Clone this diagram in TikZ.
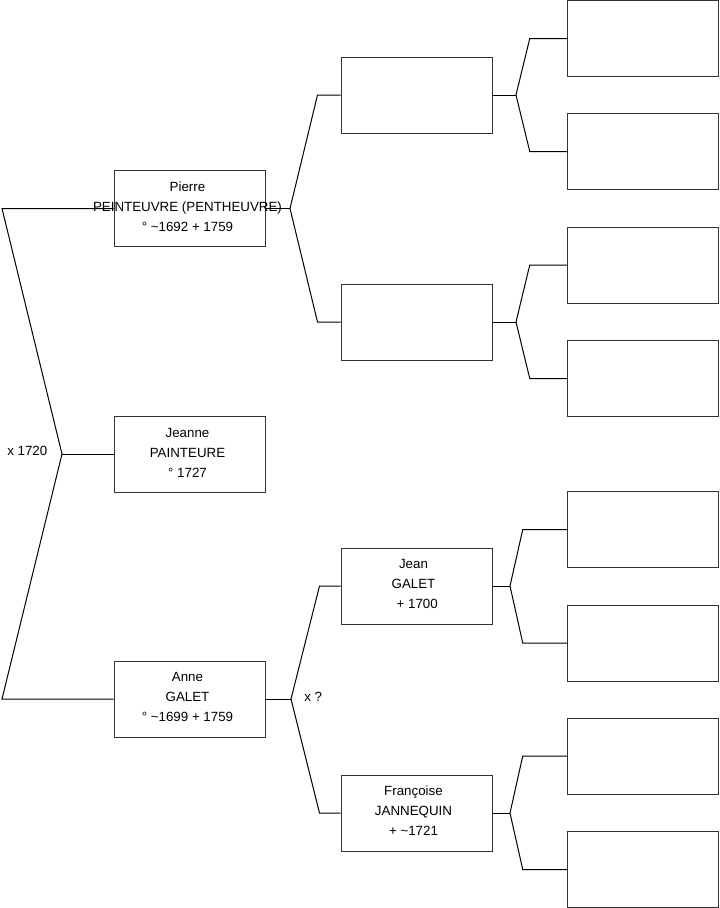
\documentclass[tikz,border=0pt]{standalone}
\usepackage{fontspec}
\setmainfont{Liberation Sans}
\begin{document}
\begin{tikzpicture}[x=0.75pt,y=-0.75pt,
  box/.style={draw=black!80, minimum width=113.25pt, minimum height=57pt, inner sep=0pt, line width=0.75pt},
  lbl/.style={align=center, font=\fontsize{10}{15}\selectfont, inner sep=0pt},
  ln/.style={line width=0.75pt, black}]
\useasboundingbox (0,0) rectangle (719,908);
% level 1
\node[box] (pierre) at (189.5,208.5) {};
\node[box] (jeanne) at (189.5,454) {};
\node[box] (anne) at (189.5,699) {};
% level 2
\node[box] (pp) at (416.5,95) {};
\node[box] (pm) at (416.5,322) {};
\node[box] (jean) at (416.5,586) {};
\node[box] (franc) at (416.5,813) {};
% level 3
\node[box] (r1) at (642.75,38.5) {};
\node[box] (r2) at (642.75,151.5) {};
\node[box] (r3) at (642.75,265) {};
\node[box] (r4) at (642.75,378.5) {};
\node[box] (r5) at (642.75,529.5) {};
\node[box] (r6) at (642.75,643) {};
\node[box] (r7) at (642.75,756) {};
\node[box] (r8) at (642.75,869.5) {};
% forks
\coordinate (lt) at (2,208.5);
\coordinate (lb) at (2,699);
\coordinate (f0) at (62,454);
\coordinate (fp) at (290,208.5);
\coordinate (fa) at (291,699);
\coordinate (fpp) at (516,95);
\coordinate (fpm) at (516,322);
\coordinate (fj) at (510,586);
\coordinate (ff) at (510,813);
% connectors
\draw[ln] (pierre.west) -- (lt) -- (f0) -- (lb) -- (anne.west);
\draw[ln] (f0) -- (jeanne.west);
\draw[ln] (pierre.east) -- (fp);
\draw[ln] (pp.west) -- ++(-17.25pt,0) -- (fp) -- ([xshift=-17.25pt]pm.west) -- (pm.west);
\draw[ln] (anne.east) -- (fa);
\draw[ln] (jean.west) -- ++(-15.75pt,0) -- (fa) -- ([xshift=-15.75pt]franc.west) -- (franc.west);
\draw[ln] (pp.east) -- (fpp);
\draw[ln] (r1.west) -- ++(-27.75pt,0) -- (fpp) -- ([xshift=-27.75pt]r2.west) -- (r2.west);
\draw[ln] (pm.east) -- (fpm);
\draw[ln] (r3.west) -- ++(-27.75pt,0) -- (fpm) -- ([xshift=-27.75pt]r4.west) -- (r4.west);
\draw[ln] (jean.east) -- (fj);
\draw[ln] (r5.west) -- ++(-33pt,0) -- (fj) -- ([xshift=-33pt]r6.west) -- (r6.west);
\draw[ln] (franc.east) -- (ff);
\draw[ln] (r7.west) -- ++(-33pt,0) -- (ff) -- ([xshift=-33pt]r8.west) -- (r8.west);
% labels
\node[lbl] (tpierre) at (187.5,206.5) {Pierre\\PEINTEUVRE (PENTHEUVRE)\\° \textasciitilde1692 + 1759};
\node[lbl] (tjeanne) at (187.5,453) {Jeanne\\PAINTEURE\\° 1727};
\node[lbl] (tanne) at (187.5,697) {Anne\\GALET\\° \textasciitilde1699 + 1759};
\node[lbl] (tjean) at (413.5,584) {Jean\\GALET\\\ \ + 1700};
\node[lbl] (tfranc) at (413.5,811) {Françoise\\JANNEQUIN\\+ \textasciitilde1721};
\node[lbl, anchor=west] (m1) at (7,451) {x 1720};
\node[lbl, anchor=west] (m2) at (304,697) {x ?};
\end{tikzpicture}
\end{document}
